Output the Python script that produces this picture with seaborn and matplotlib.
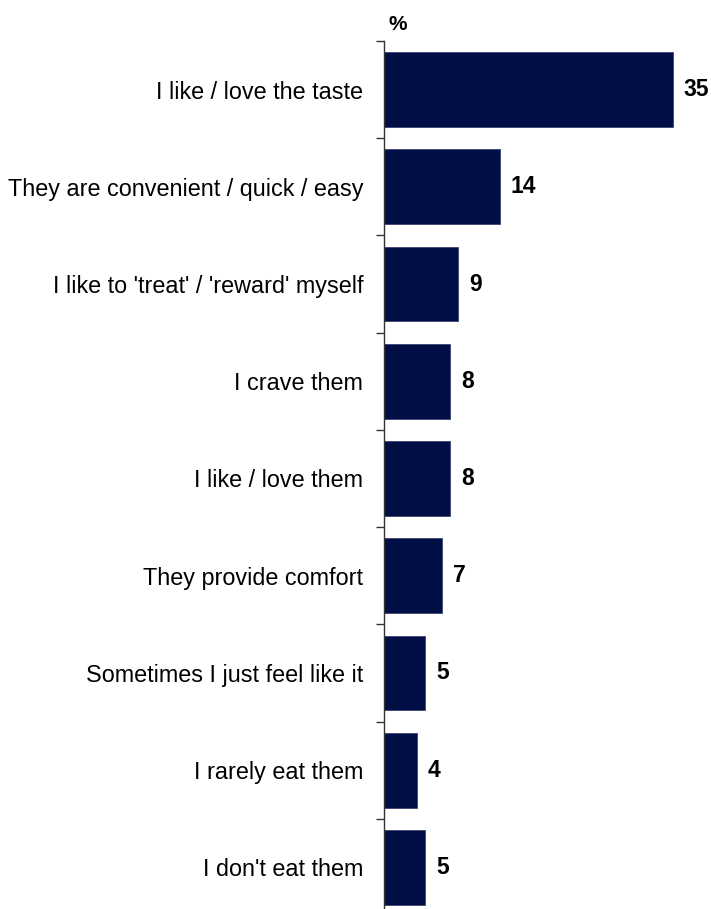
import numpy as np
import pandas as pd
import matplotlib
matplotlib.use('Agg')
import matplotlib.pyplot as plt
import seaborn as sns

# data
reasons = [
    "I like / love the taste",
    "They are convenient / quick / easy",
    "I like to 'treat' / 'reward' myself",
    "I crave them",
    "I like / love them",
    "They provide comfort",
    "Sometimes I just feel like it",
    "I rarely eat them",
    "I don't eat them",
]
percent = [35, 14, 9, 8, 8, 7, 5, 4, 5]

bar_color = '#020f47'

sns.set_style('white')
plt.rcParams['font.family'] = ['Liberation Sans', 'DejaVu Sans']
plt.rcParams['text.color'] = 'black'
plt.rcParams['ytick.color'] = 'black'
plt.rcParams['ytick.labelcolor'] = 'black'

df = pd.DataFrame({'reason': reasons, 'pct': percent})

fig = plt.figure(figsize=(7.11, 9.09), dpi=100)
ax = fig.add_axes([384 / 711, 1 - 41 / 909 - 875 / 909, 327 / 711, 875 / 909])

sns.barplot(data=df, x='pct', y='reason', orient='h', color=bar_color,
            saturation=1, width=0.77, edgecolor='#3a4370', linewidth=0.6, ax=ax)

ax.set_xlim(0, 39.6)
ax.set_ylim(len(reasons) - 0.5, -0.5)

# value labels
for i, v in enumerate(percent):
    ax.text(v + 1.3, i, f'{v}', va='center', ha='left',
            fontsize=16.5, fontweight='bold', color='black')

# spines / ticks
for s in ['top', 'right', 'bottom']:
    ax.spines[s].set_visible(False)
ax.spines['left'].set_color('#333333')
ax.spines['left'].set_linewidth(1.0)
ax.set_xticks([])
ax.set_xlabel('')
ax.set_ylabel('')
ax.tick_params(axis='y', which='major', left=True, length=0, pad=15, labelsize=16.8)
ax.set_yticks(np.arange(-0.5, len(reasons), 1), minor=True)
ax.tick_params(axis='y', which='minor', left=True, length=5.5, width=1.0,
               color='#333333', direction='out')

fig.text(398 / 711, 1 - 25 / 909, '%', ha='center', va='center',
         fontsize=15, fontweight='bold')

fig.savefig('out.png', dpi=100)
